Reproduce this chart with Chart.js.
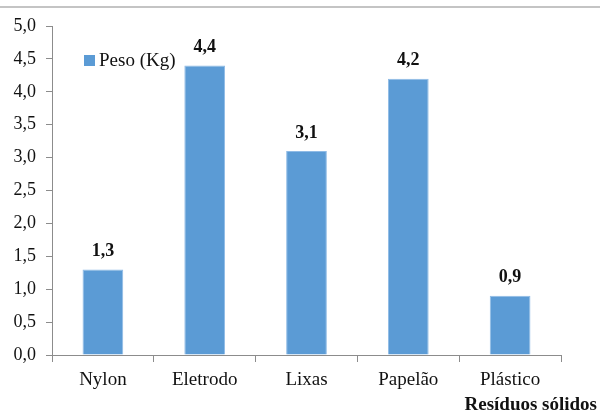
<!DOCTYPE html>
<html>
<head>
<meta charset="utf-8">
<script src="https://cdn.jsdelivr.net/npm/chart.js@4"></script>
<style>
  html, body { margin: 0; padding: 0; background: #fff; }
  #wrap { position: relative; width: 600px; height: 413px; }
  #wrap:before { content: ""; position: absolute; left: 0; right: 0; top: 6px; border-top: 2px solid #c4c4c4; }
</style>
</head>
<body>
<div id="wrap"><canvas id="residuos" width="600" height="413"></canvas></div>
<script>
var categorias = ['Nylon', 'Eletrodo', 'Lixas', 'Papelão', 'Plástico'];
var peso = [1.3, 4.4, 3.1, 4.2, 0.9];
var serieNome = 'Peso (Kg)';
var eixoX = 'Resíduos sólidos';

var serif = '"Liberation Serif", "Times New Roman", serif';
var azul = '#5b9bd5';

function virgula(v, casas) {
    return Number(v).toFixed(casas).replace('.', ',');
}

// rótulos de valor, legenda interna e título do eixo
var extras = {
    id: 'extras',
    afterDatasetsDraw: function(chart) {
        var ctx = chart.ctx;
        var area = chart.chartArea;
        ctx.save();
        ctx.fillStyle = '#111';
        ctx.font = 'bold 18px ' + serif;
        ctx.textAlign = 'center';
        ctx.textBaseline = 'bottom';
        chart.getDatasetMeta(0).data.forEach(function(bar, i) {
            ctx.fillText(virgula(peso[i], 1), bar.x, bar.y - 9);
        });

        // legenda
        ctx.fillStyle = azul;
        ctx.fillRect(area.left + 32, 55, 11, 11);
        ctx.fillStyle = '#111';
        ctx.font = '19px ' + serif;
        ctx.textAlign = 'left';
        ctx.textBaseline = 'middle';
        ctx.fillText(serieNome, area.left + 47, 61);

        // título do eixo x
        ctx.font = 'bold 19px ' + serif;
        ctx.textAlign = 'right';
        ctx.textBaseline = 'alphabetic';
        ctx.fillText(eixoX, chart.width - 3, 410);
        ctx.restore();
    }
};

var ctx = document.getElementById('residuos');
var grafico = new Chart(ctx, {
    type: 'bar',
    data: {
        labels: categorias,
        datasets: [{
            label: serieNome,
            data: peso,
            backgroundColor: azul,
            borderColor: '#8fbbe6',
            borderWidth: 1,
            categoryPercentage: 0.8,
            barPercentage: 0.5
        }]
    },
    options: {
        responsive: false,
        animation: false,
        layout: { padding: { top: 26, right: 39, bottom: 0, left: 0 } },
        plugins: {
            legend: { display: false },
            tooltip: { enabled: false }
        },
        scales: {
            x: {
                grid: {
                    offset: true,
                    drawOnChartArea: false,
                    tickLength: 7,
                    color: '#8c8c8c'
                },
                border: { color: '#8c8c8c', width: 1 },
                ticks: {
                    color: '#111',
                    padding: 7,
                    font: { family: serif, size: 19 }
                },
                afterFit: function(s) { s.height = 58; }
            },
            y: {
                min: 0,
                max: 5,
                grid: {
                    drawOnChartArea: false,
                    tickLength: 6,
                    color: '#8c8c8c'
                },
                border: { color: '#8c8c8c', width: 1 },
                ticks: {
                    stepSize: 0.5,
                    color: '#111',
                    padding: 10,
                    font: { family: serif, size: 18 },
                    callback: function(v) { return virgula(v, 1); }
                },
                afterFit: function(s) { s.width = 52; }
            }
        }
    },
    plugins: [extras]
});
</script>
</body>
</html>
